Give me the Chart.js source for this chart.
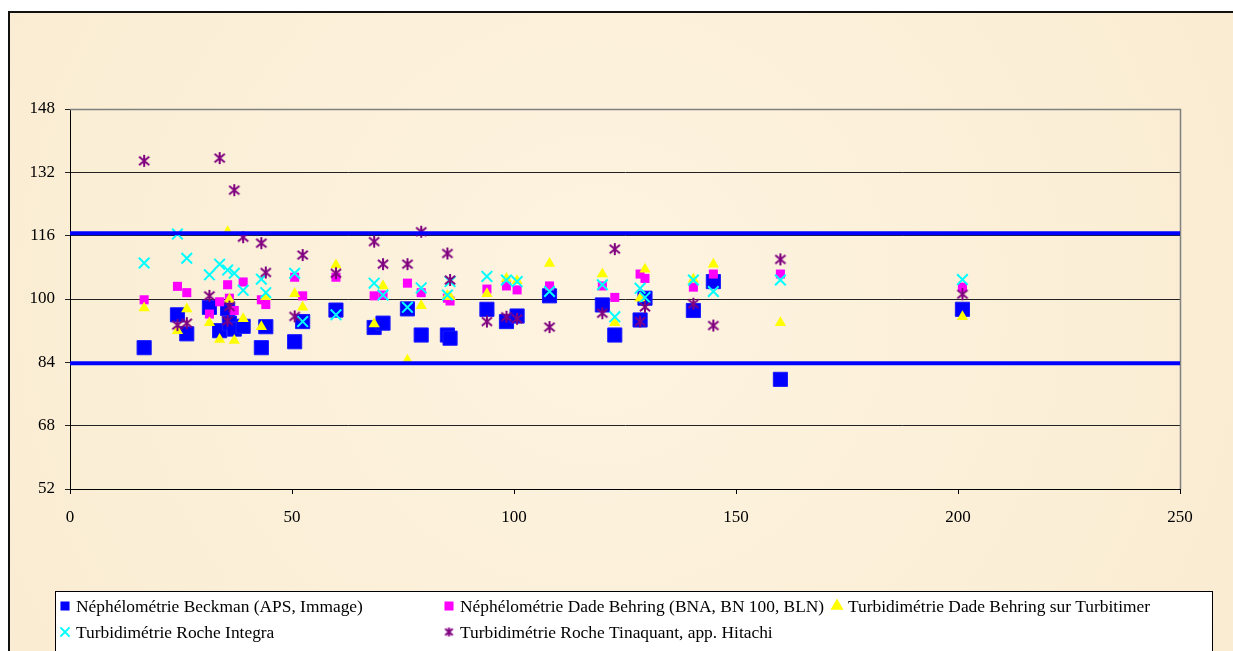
<!DOCTYPE html>
<html>
<head>
<meta charset="utf-8">
<script src="https://cdn.jsdelivr.net/npm/chart.js@4"></script>
<style>
  html, body { margin: 0; padding: 0; background: #ffffff; }
  #graficoMethodes { display: block; }
</style>
</head>
<body>
<canvas id="graficoMethodes" width="1233" height="651"></canvas>
<script>
// DONNEES
const xValues = [16.7, 24.2, 26.3, 31.4, 33.7, 35.5, 35.9, 37.0, 39.0, 43.1, 44.1, 50.6, 52.4, 59.9, 68.5, 70.5,
    76.0, 79.1, 85.0, 85.6, 93.9, 98.3, 100.7, 108.0, 119.9, 122.7, 128.4, 129.5, 140.4, 144.9, 160.0, 201.0];

const beckman = [87.7, 96.0, 91.2, 97.9, 92.0, 97.6, 93.9, 92.4, 93.1, 87.7, 93.0, 89.2, 94.3, 97.2, 92.8, 93.9,
    97.5, 90.9, 90.9, 90.1, 97.4, 94.3, 95.7, 100.8, 98.5, 90.9, 94.7, 100.2, 97.1, 104.4, 79.7, 97.4];
const dadeBehring = [99.8, 103.2, 101.6, 96.2, 99.3, 103.6, 100.2, 97.1, 104.3, 99.8, 98.6, 105.5, 100.8, 105.5, 100.8, 101.0,
    104.0, 101.6, 100.2, 99.5, 102.5, 103.3, 102.3, 103.3, 103.3, 100.4, 106.3, 105.2, 103.0, 106.3, 106.3, 103.0];
const turbitimer = [97.7, 92.0, 97.5, 94.0, 89.8, 117.0, 99.9, 89.5, 95.0, 93.0, 100.6, 101.3, 97.9, 108.6, 93.7, 103.3,
    84.5, 98.3, 100.8, 100.6, 101.3, 105.2, 104.6, 109.0, 106.3, 94.0, 100.2, 107.5, 105.0, 108.8, 94.0, 95.5];
const integra = [109.1, 116.4, 110.3, 106.1, 108.8, 107.3, null, 106.5, 102.2, 105.0, 101.6, 106.5, 94.3, 96.0, 104.0, 101.0,
    97.9, 102.8, 101.0, 104.4, 105.7, 104.8, 104.4, 101.9, 103.6, 95.5, 102.7, 100.4, 104.8, 101.9, 104.8, 104.9];
const tinaquant = [134.9, 93.4, 93.9, 100.8, 135.6, 94.5, 98.1, 127.5, 115.6, 114.1, 106.7, 95.6, 111.1, 106.5, 114.5, 108.8,
    108.8, 117.0, 111.5, 104.8, 94.3, 95.5, 95.0, 92.9, 96.4, 112.6, 94.3, 98.0, 98.8, 93.3, 110.0, 101.2];

const limiteX = [0, 250];
const limiteHaute = 116.6;
const limiteBasse = 83.8;

const yTicks = [52, 68, 84, 100, 116, 132, 148];
const xTicks = [0, 50, 100, 150, 200, 250];

const nomsSeries = [
    'Néphélométrie Beckman (APS, Immage)',
    'Néphélométrie Dade Behring (BNA, BN 100, BLN)',
    'Turbidimétrie Dade Behring sur Turbitimer',
    'Turbidimétrie Roche Integra',
    'Turbidimétrie Roche Tinaquant, app. Hitachi'
];

// FONCTIONS
function montarPontos(valores) {
    return xValues.map((x, i) => ({ x: x, y: valores[i] }));
}

function montarLinha(valor) {
    return limiteX.map(x => ({ x: x, y: valor }));
}

function desenharEstrela(tamanho) {
    const c = document.createElement('canvas');
    c.width = tamanho;
    c.height = tamanho;
    const g = c.getContext('2d');
    const m = tamanho / 2;
    const r = tamanho / 2 - 1;
    g.strokeStyle = '#800080';
    g.lineWidth = 2;
    g.beginPath();
    g.moveTo(m - r * 0.85, m - r * 0.7); g.lineTo(m + r * 0.85, m + r * 0.7);
    g.moveTo(m + r * 0.85, m - r * 0.7); g.lineTo(m - r * 0.85, m + r * 0.7);
    g.moveTo(m, m - r); g.lineTo(m, m + r);
    g.stroke();
    return c;
}

const estrela = desenharEstrela(14);
const estrelaLegenda = desenharEstrela(11);

const fondPlugin = {
    id: 'fond',
    beforeDraw(chart) {
        const ctx = chart.ctx;
        const w = chart.width, h = chart.height;
        ctx.save();
        ctx.fillStyle = '#ffffff';
        ctx.fillRect(0, 0, w, h);
        const grad = ctx.createRadialGradient(600, 300, 50, 600, 300, 800);
        grad.addColorStop(0, '#fdf3df');
        grad.addColorStop(1, '#f9ebd0');
        ctx.fillStyle = grad;
        ctx.fillRect(8, 11, w - 8, h - 11);
        ctx.strokeStyle = '#111111';
        ctx.lineWidth = 2;
        ctx.beginPath();
        ctx.moveTo(9, h);
        ctx.lineTo(9, 12);
        ctx.lineTo(w, 12);
        ctx.stroke();
        ctx.restore();
    },
    beforeDatasetsDraw(chart) {
        const a = chart.chartArea;
        const ctx = chart.ctx;
        ctx.save();
        ctx.strokeStyle = '#808080';
        ctx.lineWidth = 1.5;
        ctx.beginPath();
        ctx.moveTo(a.left, a.top + 0.5);
        ctx.lineTo(a.right + 0.5, a.top + 0.5);
        ctx.lineTo(a.right + 0.5, a.bottom);
        ctx.stroke();
        ctx.restore();
    }
};

const legendaPlugin = {
    id: 'legendaMethodes',
    afterDraw(chart) {
        const ctx = chart.ctx;
        ctx.save();
        ctx.fillStyle = '#ffffff';
        ctx.fillRect(55, 591, 1157, 70);
        ctx.strokeStyle = '#000000';
        ctx.lineWidth = 1;
        ctx.strokeRect(55.5, 591.5, 1157, 70);

        const itens = [
            { x: 65, y: 606, ds: 0 },
            { x: 449, y: 606, ds: 1 },
            { x: 837, y: 606, ds: 2 },
            { x: 65, y: 632, ds: 3 },
            { x: 449, y: 632, ds: 4 }
        ];
        const estilos = [
            { pointStyle: 'rect', radius: 5, color: '#0000ff' },
            { pointStyle: 'rect', radius: 5, color: '#ff00ff' },
            { pointStyle: 'triangle', radius: 5.5, color: '#ffff00' },
            { pointStyle: 'crossRot', radius: 6.5, color: '#00ffff' },
            { pointStyle: estrelaLegenda, radius: 5, color: '#800080' }
        ];
        ctx.font = '17.4px "Liberation Serif", "Times New Roman", serif';
        ctx.textBaseline = 'middle';
        itens.forEach(it => {
            const e = estilos[it.ds];
            ctx.fillStyle = e.color;
            ctx.strokeStyle = e.color;
            ctx.lineWidth = 2;
            Chart.helpers.drawPoint(ctx, { pointStyle: e.pointStyle, radius: e.radius, rotation: 0, borderWidth: 2 }, it.x, it.y);
            ctx.fillStyle = '#000000';
            ctx.fillText(nomsSeries[it.ds], it.x + 11, it.y + 1);
        });
        ctx.restore();
    }
};

function montarGraficoMethodes() {
    const ctx = document.getElementById('graficoMethodes').getContext('2d');
    const fonte = { family: '"Liberation Serif", "Times New Roman", serif', size: 17 };

    new Chart(ctx, {
        type: 'scatter',
        data: {
            datasets: [
                {
                    label: nomsSeries[0],
                    data: montarPontos(beckman),
                    pointStyle: 'rect',
                    pointRadius: 10,
                    backgroundColor: '#0000ff',
                    borderColor: '#1a1aff',
                    borderWidth: 1,
                    order: 5
                },
                {
                    label: nomsSeries[1],
                    data: montarPontos(dadeBehring),
                    pointStyle: 'rect',
                    pointRadius: 6.4,
                    backgroundColor: '#ff00ff',
                    borderColor: '#ff00ff',
                    borderWidth: 0,
                    order: 4
                },
                {
                    label: nomsSeries[2],
                    data: montarPontos(turbitimer),
                    pointStyle: 'triangle',
                    pointRadius: 6.5,
                    backgroundColor: '#ffff00',
                    borderColor: '#ffff00',
                    borderWidth: 0,
                    order: 3
                },
                {
                    label: nomsSeries[3],
                    data: montarPontos(integra),
                    pointStyle: 'crossRot',
                    pointRadius: 7.5,
                    backgroundColor: '#00ffff',
                    borderColor: '#00ffff',
                    borderWidth: 2,
                    order: 2
                },
                {
                    label: nomsSeries[4],
                    data: montarPontos(tinaquant),
                    pointStyle: estrela,
                    pointRadius: 7,
                    backgroundColor: '#800080',
                    borderColor: '#800080',
                    order: 1
                },
                {
                    label: 'limite haute',
                    data: montarLinha(limiteHaute),
                    showLine: true,
                    borderColor: '#0000ff',
                    borderWidth: 4,
                    pointRadius: 0,
                    order: 0
                },
                {
                    label: 'limite basse',
                    data: montarLinha(limiteBasse),
                    showLine: true,
                    borderColor: '#0000ff',
                    borderWidth: 4,
                    pointRadius: 0,
                    order: 0
                }
            ]
        },
        options: {
            responsive: false,
            animation: false,
            devicePixelRatio: 1,
            layout: { padding: { top: 109, right: 53, left: 0, bottom: 0 } },
            plugins: {
                legend: { display: false },
                tooltip: { enabled: false }
            },
            scales: {
                x: {
                    type: 'linear',
                    min: 0,
                    max: 250,
                    afterBuildTicks: s => { s.ticks = xTicks.map(v => ({ value: v })); },
                    afterFit: s => { s.height = 162; },
                    grid: { drawOnChartArea: false, drawTicks: true, tickLength: 5, color: '#000000' },
                    border: { color: '#000000', width: 1 },
                    ticks: { color: '#000000', font: fonte, padding: 13, maxRotation: 0 }
                },
                y: {
                    type: 'linear',
                    min: 52,
                    max: 148,
                    afterBuildTicks: s => { s.ticks = yTicks.map(v => ({ value: v })); },
                    afterFit: s => { s.width = 70; },
                    grid: { color: '#222222', lineWidth: 1, drawTicks: true, tickLength: 5 },
                    border: { color: '#000000', width: 1 },
                    ticks: { color: '#000000', font: fonte, padding: 10 }
                }
            }
        },
        plugins: [fondPlugin, legendaPlugin]
    });
}

montarGraficoMethodes();
</script>
</body>
</html>
